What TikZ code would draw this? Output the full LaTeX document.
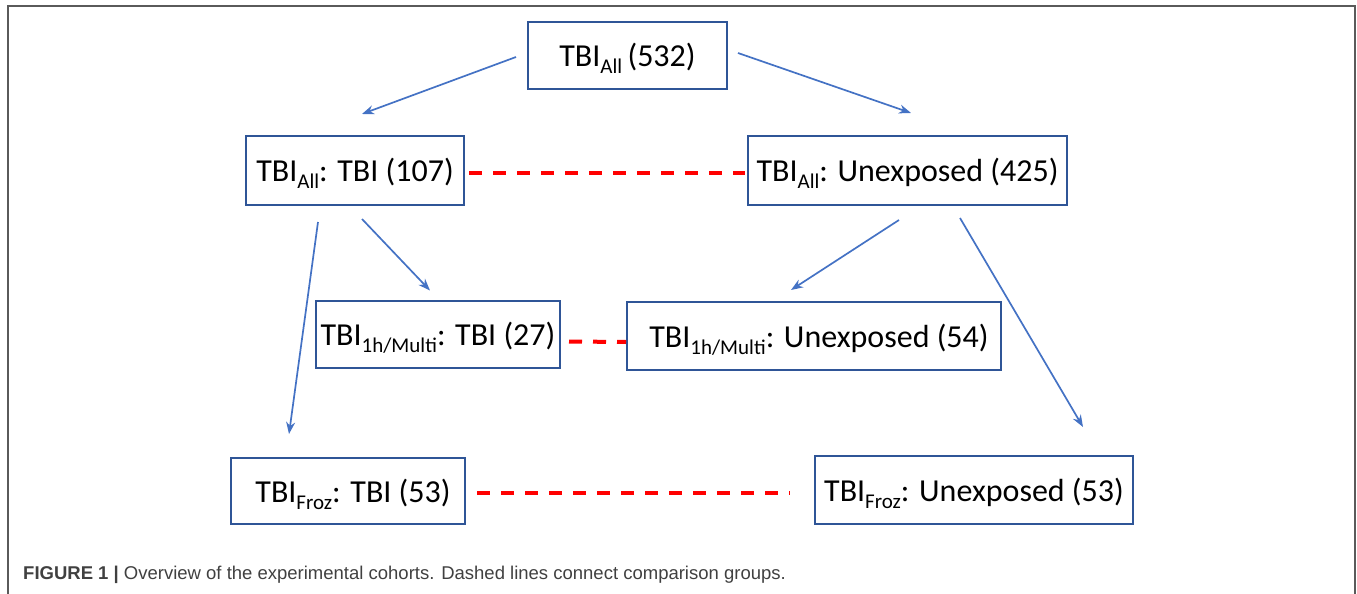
\documentclass[tikz,border=0pt]{standalone}
\usepackage{fontspec}
\usepackage{xcolor}
\usepackage{tikz}
\usetikzlibrary{positioning,arrows.meta}
\setmainfont{Carlito}
\newfontfamily\captionfont{Liberation Sans}
\definecolor{c_box}{HTML}{2F5597}
\definecolor{c_arrow}{HTML}{4472C4}
\definecolor{c_link}{HTML}{FF0000}
\definecolor{c_frame}{HTML}{5A5A5A}
\definecolor{c_caption}{HTML}{404040}
% lowered cohort tag after TBI (kept out of the box height)
\newcommand{\tbisub}[1]{\raisebox{-7pt}[0pt][0pt]{\fontsize{21}{21}\selectfont #1}}
\tikzset{c-cohort/.style={rectangle, inner sep=0pt, text centered, text height=30pt, text depth=8pt, draw=c_box, line width=2pt, fill=white, font=\fontsize{32}{38}\selectfont},
arrow/.style={line width=1.7pt, c_arrow, ->, >={Stealth[length=12pt,width=9pt]}},
c-link/.style={line width=4pt, c_link, dash pattern=on 13pt off 11pt}}

\begin{document}
\begin{tikzpicture}[x=1pt, y=-1pt]
\useasboundingbox (0,0) rectangle (1357,594);
\draw [c_frame, line width=1.2pt] (8,594) -- (8,6) -- (1355,6) -- (1355,594);

\node (all) [c-cohort, minimum width=199pt, minimum height=67pt] at (627.5,55.5) {TBI\tbisub{All}\,(532)};
\node (allTbi) [c-cohort, minimum width=218pt, minimum height=69pt] at (355,170.5) {TBI\tbisub{All}: TBI (107)};
\node (allUnexp) [c-cohort, minimum width=319pt, minimum height=69pt] at (907.5,170.5) {TBI\tbisub{All}: Unexposed (425)};
\node (multiTbi) [c-cohort, minimum width=244pt, minimum height=67pt] at (438,334) {TBI\tbisub{1h/Multi}: TBI (27)};
\node (multiUnexp) [c-cohort, minimum width=374pt, minimum height=68pt] at (814,336) {\hspace*{10pt}TBI\tbisub{1h/Multi}: Unexposed (54)};
\node (frozTbi) [c-cohort, minimum width=234pt, minimum height=66pt] at (348,491) {\hspace*{10pt}TBI\tbisub{Froz}: TBI (53)};
\node (frozUnexp) [c-cohort, minimum width=318pt, minimum height=68pt] at (974,490) {TBI\tbisub{Froz}: Unexposed (53)};

\draw [arrow] ([xshift=-11pt,yshift=-1.5pt]all.west) -- ([xshift=7pt,yshift=21pt]allTbi.north);
\draw [arrow] ([xshift=10pt,yshift=2.5pt]all.east) -- ([xshift=3.5pt,yshift=22pt]allUnexp.north);
\draw [arrow] ([xshift=-37pt,yshift=-16pt]allTbi.south) -- ([xshift=-59pt,yshift=23pt]frozTbi.north);
\draw [arrow] ([xshift=7pt,yshift=-13pt]allTbi.south) -- ([xshift=-8pt,yshift=9pt]multiTbi.north);
\draw [arrow] ([xshift=-8.5pt,yshift=-14pt]allUnexp.south) -- ([xshift=-23pt,yshift=11pt]multiUnexp.north);
\draw [arrow] ([xshift=52.5pt,yshift=-12pt]allUnexp.south) -- ([xshift=109pt,yshift=28pt]frozUnexp.north);

\draw [c-link] ([xshift=4pt,yshift=-2.5pt]allTbi.east) -- ([xshift=-2pt,yshift=-2.5pt]allUnexp.west);
\draw [c-link] ([xshift=8pt,yshift=-7.5pt]multiTbi.east) -- ([yshift=-6pt]multiUnexp.west);
\draw [c-link] ([xshift=11pt,yshift=-2pt]frozTbi.east) -- ([xshift=-24pt,yshift=-3pt]frozUnexp.west);

\node (caption) [anchor=base west, inner sep=0pt, text=c_caption, font=\captionfont\fontsize{18.5}{22}\selectfont] at (23,579) {\textbf{FIGURE 1 |} Overview of the experimental cohorts. Dashed lines connect comparison groups.};
\end{tikzpicture}
\end{document}
